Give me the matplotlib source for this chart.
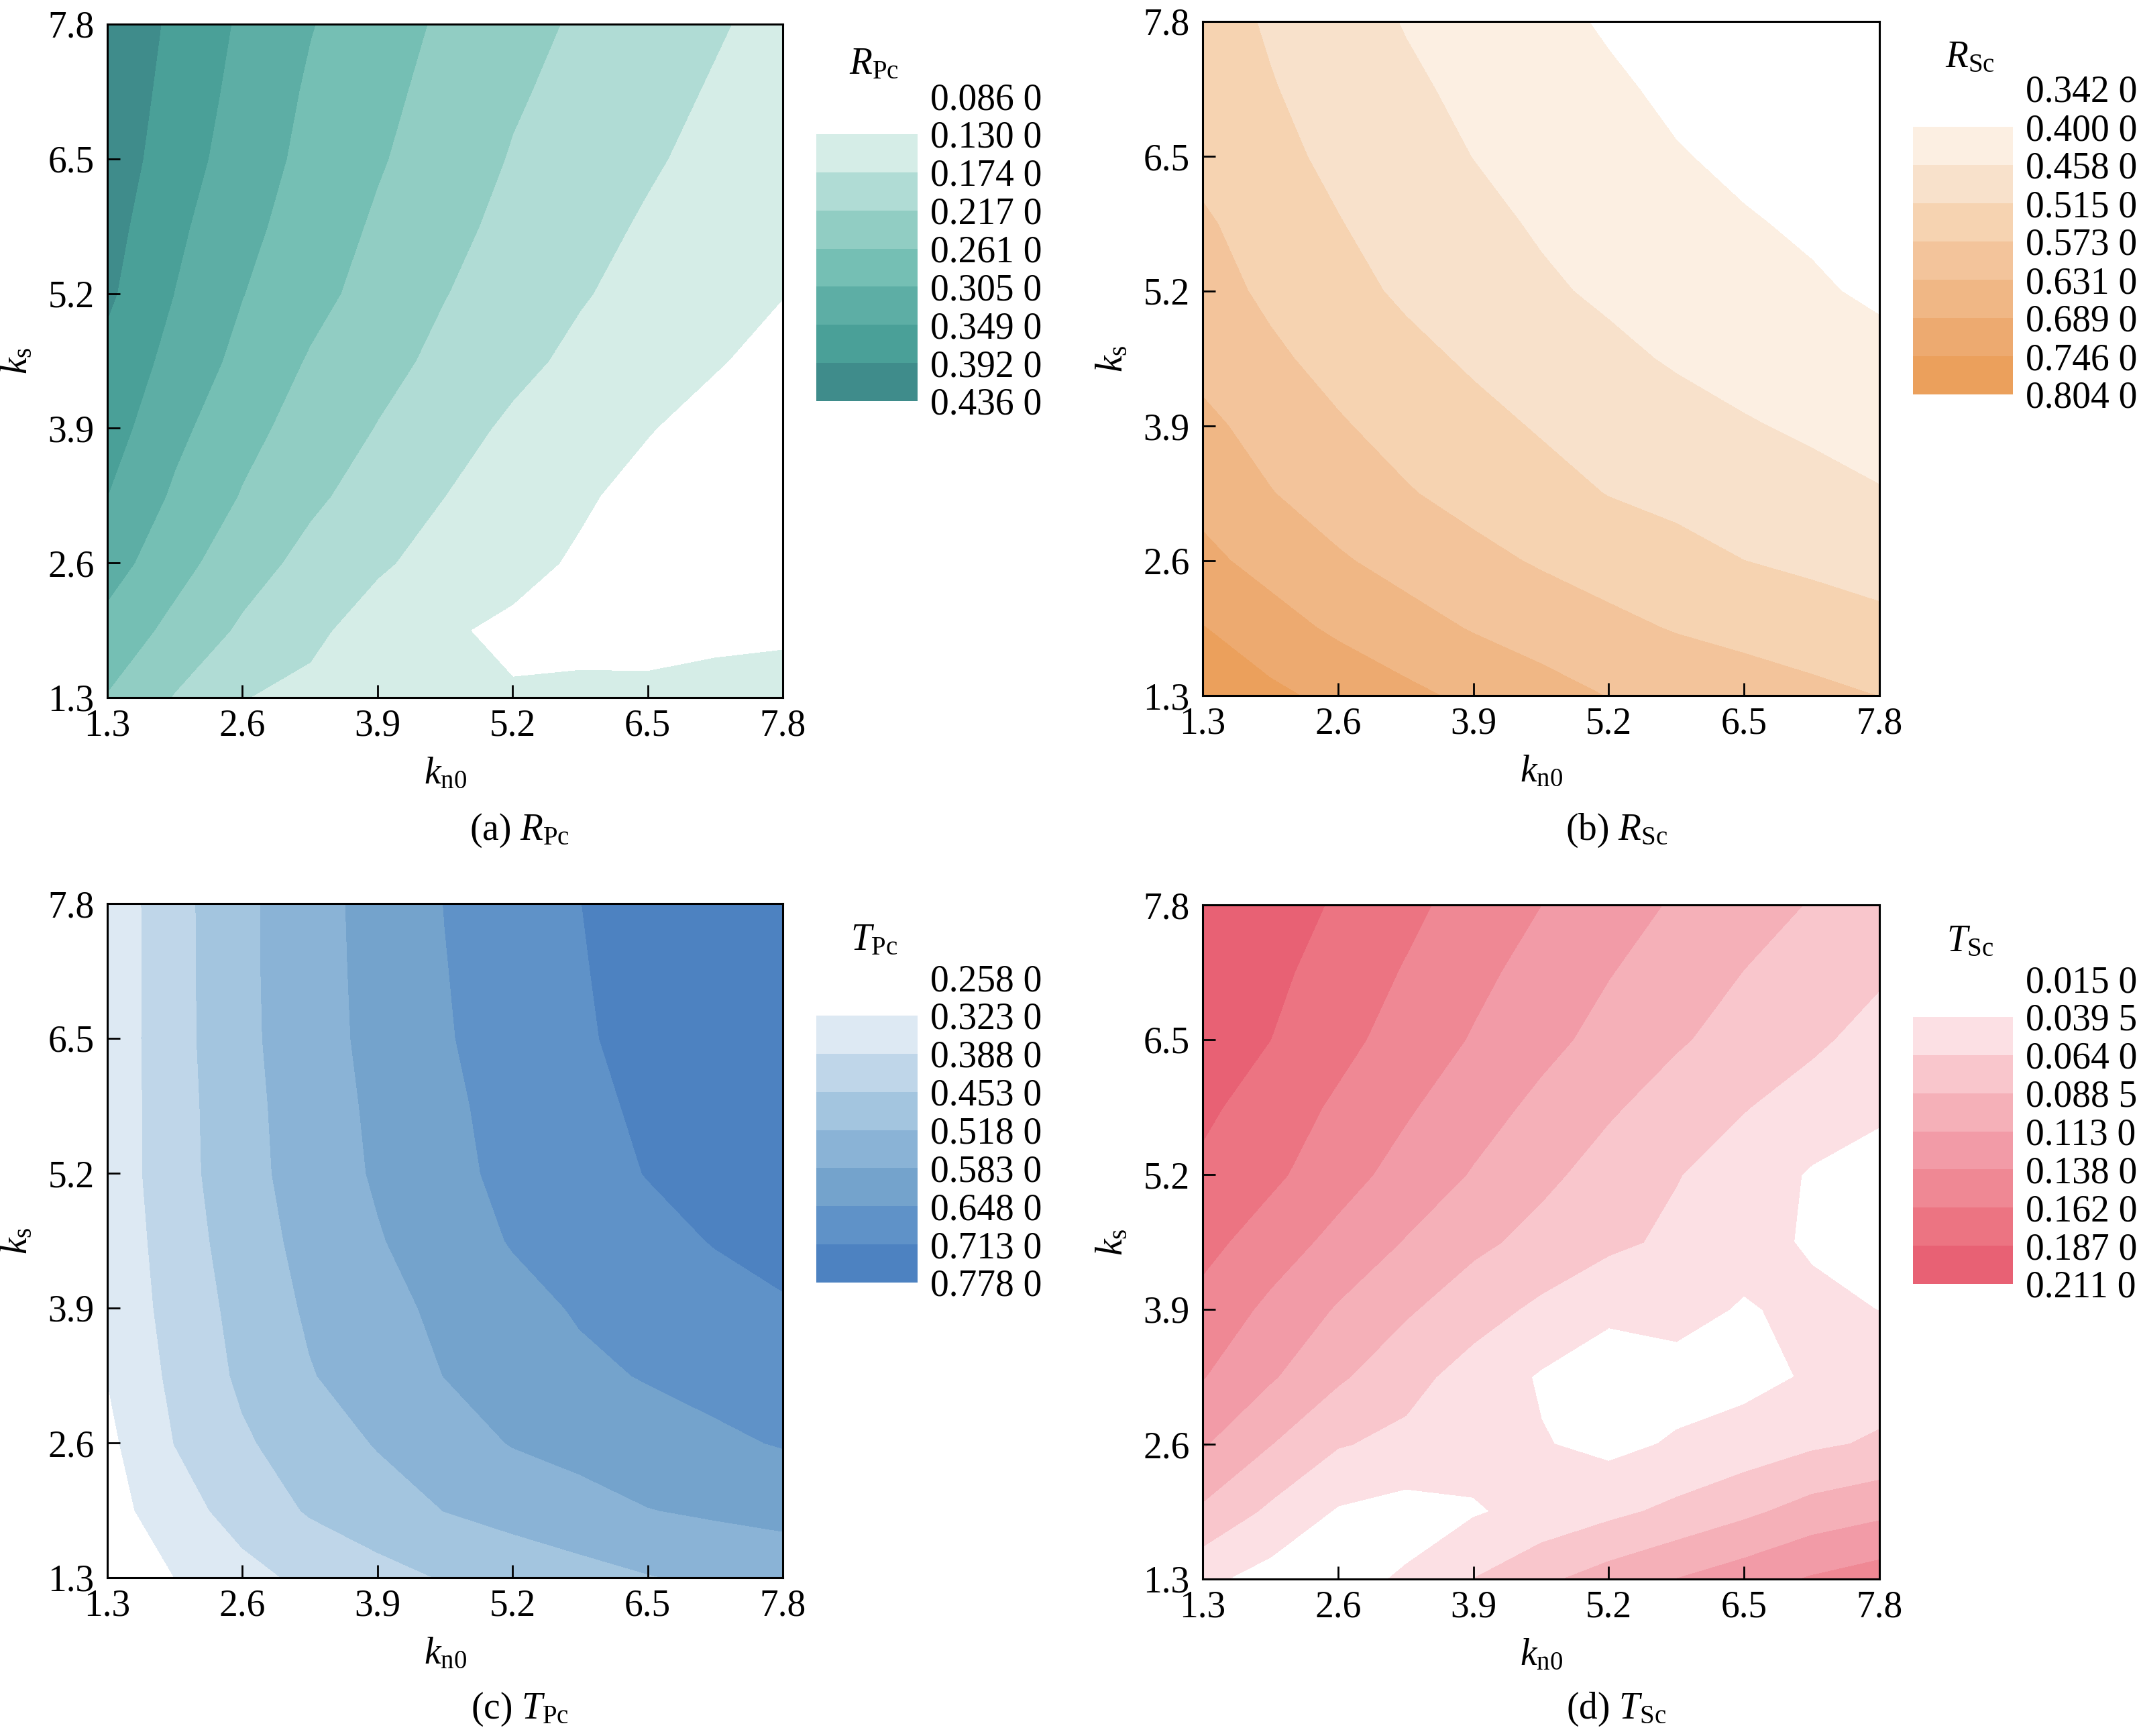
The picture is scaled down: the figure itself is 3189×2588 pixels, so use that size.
import numpy as np
import matplotlib
matplotlib.use("Agg")
import matplotlib.pyplot as plt

plt.rcParams['font.family'] = ['Liberation Serif', 'DejaVu Serif']
plt.rcParams['mathtext.fontset'] = 'custom'
plt.rcParams['mathtext.rm'] = 'Liberation Serif'
plt.rcParams['mathtext.it'] = 'Liberation Serif:italic'
plt.rcParams['mathtext.bf'] = 'Liberation Serif:bold'

# ---------------- data ----------------
k_n0 = [1.3, 1.95, 2.6, 3.25, 3.9, 4.55, 5.2, 5.85, 6.5, 7.15, 7.8]
k_s = [1.3, 1.95, 2.6, 3.25, 3.9, 4.55, 5.2, 5.85, 6.5, 7.15, 7.8]
tick_vals = [1.3, 2.6, 3.9, 5.2, 6.5, 7.8]

# rows listed from k_s = 7.8 (top) down to k_s = 1.3 (bottom)
R_Pc = [
    [0.426, 0.383, 0.342, 0.307, 0.280, 0.254, 0.231, 0.211, 0.194, 0.178, 0.161],
    [0.421, 0.377, 0.335, 0.299, 0.272, 0.247, 0.222, 0.204, 0.187, 0.170, 0.153],
    [0.416, 0.370, 0.327, 0.293, 0.265, 0.239, 0.214, 0.197, 0.179, 0.162, 0.145],
    [0.408, 0.358, 0.317, 0.284, 0.255, 0.228, 0.206, 0.187, 0.169, 0.151, 0.136],
    [0.399, 0.348, 0.306, 0.274, 0.245, 0.218, 0.198, 0.177, 0.161, 0.146, 0.131],
    [0.380, 0.335, 0.292, 0.257, 0.231, 0.206, 0.184, 0.165, 0.149, 0.133, 0.117],
    [0.368, 0.316, 0.274, 0.243, 0.215, 0.189, 0.167, 0.149, 0.132, 0.116, 0.105],
    [0.349, 0.298, 0.258, 0.225, 0.199, 0.174, 0.154, 0.135, 0.118, 0.110, 0.105],
    [0.324, 0.276, 0.235, 0.204, 0.179, 0.160, 0.141, 0.125, 0.115, 0.112, 0.115],
    [0.290, 0.248, 0.210, 0.182, 0.157, 0.134, 0.123, 0.118, 0.122, 0.125, 0.127],
    [0.258, 0.214, 0.175, 0.165, 0.155, 0.145, 0.133, 0.138, 0.135, 0.137, 0.137],
]
R_Sc = [
    [0.538, 0.509, 0.481, 0.455, 0.435, 0.414, 0.394, 0.374, 0.360, 0.350, 0.345],
    [0.544, 0.518, 0.493, 0.467, 0.446, 0.427, 0.408, 0.390, 0.375, 0.362, 0.352],
    [0.558, 0.528, 0.504, 0.480, 0.457, 0.439, 0.421, 0.403, 0.390, 0.378, 0.368],
    [0.580, 0.548, 0.517, 0.494, 0.472, 0.452, 0.436, 0.420, 0.404, 0.393, 0.386],
    [0.593, 0.563, 0.533, 0.506, 0.486, 0.466, 0.449, 0.435, 0.421, 0.406, 0.392],
    [0.615, 0.582, 0.556, 0.530, 0.507, 0.489, 0.470, 0.452, 0.440, 0.427, 0.414],
    [0.643, 0.611, 0.578, 0.554, 0.531, 0.510, 0.494, 0.478, 0.462, 0.450, 0.437],
    [0.672, 0.633, 0.605, 0.577, 0.555, 0.534, 0.513, 0.501, 0.488, 0.474, 0.461],
    [0.702, 0.670, 0.637, 0.612, 0.588, 0.567, 0.549, 0.532, 0.515, 0.504, 0.493],
    [0.748, 0.711, 0.679, 0.652, 0.627, 0.607, 0.587, 0.569, 0.556, 0.542, 0.529],
    [0.790, 0.758, 0.730, 0.702, 0.676, 0.652, 0.629, 0.615, 0.601, 0.587, 0.572],
]
T_Pc = [
    [0.344, 0.430, 0.503, 0.558, 0.605, 0.649, 0.681, 0.712, 0.745, 0.770, 0.775],
    [0.344, 0.429, 0.503, 0.557, 0.603, 0.646, 0.677, 0.708, 0.740, 0.765, 0.774],
    [0.345, 0.429, 0.502, 0.555, 0.601, 0.643, 0.674, 0.704, 0.735, 0.758, 0.772],
    [0.346, 0.426, 0.498, 0.550, 0.595, 0.636, 0.668, 0.696, 0.724, 0.745, 0.762],
    [0.347, 0.425, 0.495, 0.547, 0.590, 0.631, 0.663, 0.689, 0.715, 0.735, 0.752],
    [0.344, 0.417, 0.486, 0.538, 0.578, 0.616, 0.652, 0.673, 0.694, 0.716, 0.725],
    [0.341, 0.409, 0.474, 0.527, 0.563, 0.596, 0.627, 0.654, 0.672, 0.690, 0.709],
    [0.324, 0.402, 0.464, 0.514, 0.550, 0.584, 0.610, 0.635, 0.652, 0.666, 0.680],
    [0.308, 0.389, 0.444, 0.485, 0.522, 0.556, 0.586, 0.603, 0.620, 0.637, 0.652],
    [0.297, 0.360, 0.414, 0.459, 0.489, 0.519, 0.540, 0.560, 0.581, 0.592, 0.600],
    [0.280, 0.323, 0.367, 0.403, 0.431, 0.457, 0.476, 0.495, 0.514, 0.530, 0.545],
]
T_Sc = [
    [0.209, 0.199, 0.184, 0.168, 0.152, 0.138, 0.124, 0.110, 0.098, 0.087, 0.074],
    [0.205, 0.193, 0.176, 0.160, 0.144, 0.129, 0.114, 0.101, 0.088, 0.076, 0.067],
    [0.205, 0.187, 0.169, 0.152, 0.136, 0.120, 0.105, 0.091, 0.0795, 0.068, 0.0556],
    [0.192, 0.175, 0.158, 0.141, 0.1235, 0.107, 0.0914, 0.078, 0.065, 0.054, 0.043],
    [0.182, 0.167, 0.1475, 0.129, 0.111, 0.094, 0.079, 0.065, 0.053, 0.037, 0.031],
    [0.1695, 0.150, 0.131, 0.1114, 0.094, 0.0807, 0.0692, 0.059, 0.049, 0.036, 0.029],
    [0.154, 0.1326, 0.1105, 0.0916, 0.074, 0.059, 0.043, 0.048, 0.037, 0.046, 0.039],
    [0.139, 0.1156, 0.092, 0.072, 0.054, 0.037, 0.030, 0.030, 0.032, 0.042, 0.053],
    [0.115, 0.089, 0.0656, 0.058, 0.0485, 0.041, 0.033, 0.042, 0.050, 0.060, 0.067],
    [0.084, 0.059, 0.037, 0.030, 0.037, 0.047, 0.058, 0.0697, 0.083, 0.098, 0.107],
    [0.045, 0.030, 0.032, 0.042, 0.064, 0.083, 0.099, 0.113, 0.126, 0.140, 0.150],
]

levels_RPc = [0.0860, 0.1300, 0.1740, 0.2170, 0.2610, 0.3050, 0.3490, 0.3920, 0.4360]
levels_RSc = [0.3420, 0.4000, 0.4580, 0.5150, 0.5730, 0.6310, 0.6890, 0.7460, 0.8040]
levels_TPc = [0.2580, 0.3230, 0.3880, 0.4530, 0.5180, 0.5830, 0.6480, 0.7130, 0.7780]
levels_TSc = [0.0150, 0.0395, 0.0640, 0.0885, 0.1130, 0.1380, 0.1620, 0.1870, 0.2110]

colors_RPc = ['#ffffff', '#d5ede7', '#b0dcd5', '#91cdc3', '#75bfb4', '#5daea5', '#4aa098', '#3f8c8b']
colors_RSc = ['#ffffff', '#fcefe2', '#f8e1cb', '#f6d3b1', '#f3c49b', '#f0b785', '#edaa70', '#eba05c']
colors_TPc = ['#ffffff', '#dde9f3', '#bfd6e9', '#a3c5df', '#8ab3d6', '#74a3cc', '#5f92c8', '#4d82c1']
colors_TSc = ['#ffffff', '#fce0e4', '#f9c6cc', '#f5b0b8', '#f29ba7', '#ef8894', '#ec7482', '#e86174']

titles = [r'$R_{\mathrm{Pc}}$', r'$R_{\mathrm{Sc}}$', r'$T_{\mathrm{Pc}}$', r'$T_{\mathrm{Sc}}$']
captions = [r'(a) $R_{\mathrm{Pc}}$', r'(b) $R_{\mathrm{Sc}}$', r'(c) $T_{\mathrm{Pc}}$', r'(d) $T_{\mathrm{Sc}}$']

# ---------------- layout ----------------
W, H = 3189, 2588
FS = 20

def frac_rect(x0, y0, x1, y1):
    return [x0 / W, 1 - y1 / H, (x1 - x0) / W, (y1 - y0) / H]

ax_rects = [frac_rect(160, 36, 1167, 1040), frac_rect(1793, 32, 2802, 1037),
            frac_rect(160, 1347, 1167, 2352), frac_rect(1793, 1349, 2802, 2354)]
cb_rects = [frac_rect(1217, 143, 1368, 598), frac_rect(2852, 132, 3001, 588),
            frac_rect(1217, 1457, 1368, 1912), frac_rect(2852, 1459, 3001, 1914)]
title_pos = [(1303, 96), (2937, 86), (1303, 1402), (2937, 1404)]
caption_pos = [(775, 1238), (2410, 1238), (775, 2548), (2410, 2548)]

datasets = [R_Pc, R_Sc, T_Pc, T_Sc]
levels_all = [levels_RPc, levels_RSc, levels_TPc, levels_TSc]
colors_all = [colors_RPc, colors_RSc, colors_TPc, colors_TSc]


def fmt(v):
    s = f"{v:.4f}"
    return s[:-1] + " " + s[-1]


fig = plt.figure(figsize=(W / 200, H / 200), dpi=200)
X, Y = np.meshgrid(k_n0, k_s)

for i in range(4):
    ax = fig.add_axes(ax_rects[i])
    Z = np.array(datasets[i])[::-1]
    cs = ax.contourf(X, Y, Z, levels=levels_all[i], colors=colors_all[i])
    cs.set_edgecolor('face')
    cs.set_linewidth(0.4)
    ax.set_xlim(1.3, 7.8)
    ax.set_ylim(1.3, 7.8)
    ax.set_xticks(tick_vals)
    ax.set_yticks(tick_vals)
    ax.set_xticklabels([f"{t:.1f}" for t in tick_vals])
    ax.set_yticklabels([f"{t:.1f}" for t in tick_vals])
    ax.tick_params(direction='in', length=7, width=1.0, labelsize=FS,
                   top=False, right=False)
    ax.tick_params(axis='x', pad=6)
    ax.tick_params(axis='y', pad=7)
    for sp in ax.spines.values():
        sp.set_linewidth(1.1)
        sp.set_zorder(5)
    ax.set_xlabel(r'$k_{\mathrm{n0}}$', fontsize=FS, labelpad=7)
    ax.set_ylabel(r'$k_{\mathrm{s}}$', fontsize=FS, labelpad=7)

    cax = fig.add_axes(cb_rects[i])
    cb = fig.colorbar(cs, cax=cax, ticks=levels_all[i])
    cb.ax.invert_yaxis()
    cb.outline.set_visible(False)
    cb.ax.tick_params(length=0, labelsize=FS, pad=7)
    cb.set_ticklabels([fmt(v) for v in levels_all[i]])

    tx, ty = title_pos[i]
    fig.text(tx / W, 1 - ty / H, titles[i], fontsize=FS, ha='center', va='center')
    cx, cy = caption_pos[i]
    fig.text(cx / W, 1 - cy / H, captions[i], fontsize=FS, ha='center', va='center')

fig.savefig('out.png', dpi=200)
